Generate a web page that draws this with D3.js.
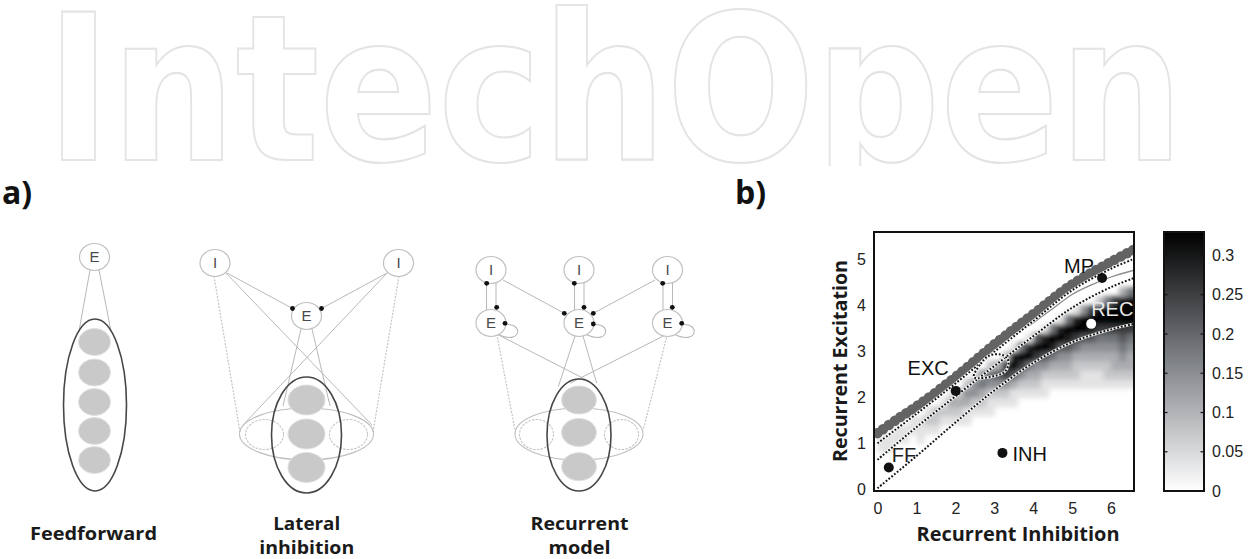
<!DOCTYPE html>
<html><head><meta charset="utf-8">
<script src="https://cdn.jsdelivr.net/npm/d3@7"></script>
<style>body{margin:0;background:#fff;} svg{display:block;}</style>
</head><body>
<svg id="c" width="1255" height="559"></svg>
<script>
// ---------------- DATA ----------------
const xTicks = [0, 1, 2, 3, 4, 5, 6];
const yTicks = [0, 1, 2, 3, 4, 5];
const cbTicks = [0, 0.05, 0.1, 0.15, 0.2, 0.25, 0.3];
const cbTickLabels = ["0", "0.05", "0.1", "0.15", "0.2", "0.25", "0.3"];
const heatMax = 0.33;
const gridStep = 0.2;           // grid spacing in data units (inhibition & excitation)
const heatLevels = 9;           // digit 9 == heatMax
// one string per inhibition column (x = 0..6.6 step 0.2), chars from excitation 0 upward (step 0.2)
const heatCols = [
  "0000110000000000000000000000",
  "0000110000000000000000000000",
  "0000011000000000000000000000",
  "0000011000000000000000000000",
  "0000001100000000000000000000",
  "0000011100000000000000000000",
  "0000001210000000000000000000",
  "0000001220000000000000000000",
  "0000000121000000000000000000",
  "0000000123100000000000000000",
  "0000000123200000000000000000",
  "0000000113420000000000000000",
  "0000000012441000000000000000",
  "0000000012354000000000000000",
  "0000000011245200000000000000",
  "0000000001246300000000000000",
  "0000000001247720000000000000",
  "0000000001136981000000000000",
  "0000000000124795000000000000",
  "0000000000123598100000000000",
  "0000000000123479600000000000",
  "0000000000112469810000000000",
  "0000000000012358950000000000",
  "0000000000012346981000000000",
  "0000000000012346895000000000",
  "0000000000012235798100000000",
  "0000000000011234699400000000",
  "0000000000011234689700000000",
  "0000000000011234579920000000",
  "0000000000012234579950000000",
  "0000000000012334579970000000",
  "0000000000012345679993000000",
  "0000000000012334579995000000"
];
const upperBoundary = [[0,1.22],[0.5,1.52],[1.1,1.86],[2,2.44],[3,3.15],[4,3.81],[5,4.46],[6,4.95],[6.6,5.22]];
const upperDotted   = [[0,1.0],[1,1.64],[2,2.3],[3,2.99],[4,3.66],[5,4.33],[6,4.8],[6.6,5.02]];
const thinLine      = [[3.9,3.56],[4.5,3.93],[5,4.24],[5.5,4.45],[6,4.62],[6.6,4.77]];
const middleDotted  = [[0,0.64],[1,1.35],[2,2.02],[3,2.68],[4,3.33],[5,3.95],[6,4.4],[6.6,4.6]];
const lowerDotted   = [[0,0.02],[1,0.72],[2,1.45],[3,2.15],[4,2.75],[5,3.2],[6,3.48],[6.6,3.6]];
const loopContour   = [[2.48,2.44],[2.65,2.73],[2.87,2.91],[3.17,2.93],[3.34,2.84],[3.36,2.70],[3.26,2.55],[3.08,2.48]];
const pointNames = ["FF", "EXC", "INH", "MP", "REC"];
const pointInh   = [0.29, 2.01, 3.21, 5.77, 5.49];
const pointExc   = [0.47, 2.14, 0.79, 4.60, 3.60];

// ---------------- DRAW ----------------
const svg = d3.select("#c");
const defs = svg.append("defs");

// watermark (clipped to the band above the panels)
defs.append("clipPath").attr("id", "wmclip").append("rect")
  .attr("x", 0).attr("y", 0).attr("width", 1255).attr("height", 166);
svg.append("g").attr("clip-path", "url(#wmclip)")
  .append("text").attr("transform", "translate(46,160) scale(1,1.16)")
  .attr("font-family", "DejaVu Sans").attr("font-weight", 700).attr("font-size", 175)
  .attr("fill", "#fff").attr("stroke", "#e4e4e4").attr("stroke-width", 1.8)
  .text("IntechOpen");

// panel labels
[["a)", 2], ["b)", 735]].forEach(([t, px]) => {
  svg.append("text").attr("x", px).attr("y", 204)
    .attr("font-family", "Open Sans").attr("font-weight", 700).attr("font-size", 32)
    .attr("fill", "#111").text(t);
});

// ---------- panel a diagrams ----------
const A = svg.append("g");
const lineCol = "#b8b8b8", nodeCol = "#c0c0c0", darkCol = "#474747", fillCol = "#c9c9c9";
function seg(x1, y1, x2, y2, dotted) {
  A.append("line").attr("x1", x1).attr("y1", y1).attr("x2", x2).attr("y2", y2)
    .attr("stroke", dotted ? "#c4c4c4" : lineCol).attr("stroke-width", dotted ? 1.2 : 1)
    .attr("stroke-dasharray", dotted ? "2,1.4" : null);
}
function ell(cx, cy, rx, ry, stroke, sw, fill, dash) {
  A.append("ellipse").attr("cx", cx).attr("cy", cy).attr("rx", rx).attr("ry", ry)
    .attr("stroke", stroke).attr("stroke-width", sw).attr("fill", fill || "none")
    .attr("stroke-dasharray", dash || null);
}
function node(cx, cy, label) {
  ell(cx, cy, 15, 13.5, nodeCol, 1.2, "#fff");
  A.append("text").attr("x", cx).attr("y", cy + 5).attr("text-anchor", "middle")
    .attr("font-family", "Liberation Sans").attr("font-size", 15).attr("fill", "#4a4a4a").text(label);
}
function dot(cx, cy) { A.append("circle").attr("cx", cx).attr("cy", cy).attr("r", 2.4).attr("fill", "#111"); }
function loop(cx, cy) {
  A.append("path").attr("d", `M${cx+13},${cy+2} C${cx+32},${cy-2} ${cx+32},${cy+22} ${cx+8},${cy+12}`)
    .attr("fill", "none").attr("stroke", lineCol).attr("stroke-width", 1.1);
}
function cluster(cx, cy, big) {
  ell(cx, cy, big.wrx, 26, "#bfbfbf", 1.1);
  ell(cx - big.off, cy + 0.5, big.srx, 15, "#c4c4c4", 1.1, "none", "2.5,1.2");
  ell(cx + big.off, cy + 0.5, big.srx, 15, "#c4c4c4", 1.1, "none", "2.5,1.2");
}
function label2(cx, lines) {
  lines.forEach(([t, yy, w]) => {
    A.append("text").attr("x", cx).attr("y", yy).attr("text-anchor", "middle")
      .attr("font-family", "Open Sans").attr("font-weight", 700).attr("font-size", 18)
      .attr("fill", "#1a1a1a").attr("textLength", w).attr("lengthAdjust", "spacingAndGlyphs").text(t);
  });
}

// Feedforward
seg(90, 270, 79, 331); seg(99, 270, 111, 331);
[342, 372.5, 402, 431, 460].forEach(cy => ell(94.5, cy, 16, 13.5, "#e0e0e0", 1, fillCol));
ell(95, 405, 31.5, 86, darkCol, 1.6);
node(94.5, 257, "E");
label2(93.5, [["Feedforward", 540, 127]]);

// Lateral inhibition
seg(227, 273, 292.5, 308.5); seg(387, 273, 321.5, 308.5);
seg(225, 272, 372, 425); seg(388, 272, 243, 425);
seg(214, 276, 240, 432, true); seg(399, 276, 373, 432, true);
seg(301, 329, 283, 406); seg(312, 329, 330, 406);
cluster(306.5, 434, {wrx: 67, srx: 19, off: 42});
[400, 434, 467.5].forEach(cy => ell(306.5, cy, 18.5, 15, "#e0e0e0", 1, fillCol));
ell(306.5, 435, 35, 58, darkCol, 1.6);
node(215, 263, "I"); node(398.5, 263, "I"); node(306.5, 316, "E");
dot(292.5, 308.5); dot(321.5, 308.5);
label2(306.7, [["Lateral", 529.5, 67], ["inhibition", 553.5, 95]]);

// Recurrent model
const rx3 = [491, 579, 667.5];
rx3.forEach(cx => { seg(cx - 4.5, 283, cx - 4.5, 310); seg(cx + 5, 283, cx + 5, 310); });
seg(503, 280, 564.3, 313.3); seg(655, 280, 593.3, 313.3);
seg(496.7, 334, 515, 430, true); seg(667.3, 334, 643.3, 430, true);
seg(496.7, 334, 586.7, 380); seg(667.3, 334, 570, 383.3);
seg(575, 336, 558.3, 386.7); seg(583, 336, 596.7, 383.3);
cluster(579, 434, {wrx: 64, srx: 17, off: 42.5});
[400, 432.5, 466.7].forEach(cy => ell(579, cy, 17.5, 14, "#e0e0e0", 1, fillCol));
ell(579, 435, 32, 56, darkCol, 1.6);
rx3.forEach(cx => { loop(cx, 323); node(cx, 270, "I"); node(cx, 323, "E"); });
[[486.7,283.3],[496.7,307.3],[505,323.3],[574.3,283.3],[584,307.3],[564.3,313.3],[593.3,313.3],[593.3,324],[662.7,283.3],[672.3,307.3],[681.7,323.3]].forEach(p => dot(p[0], p[1]));
label2(579.5, [["Recurrent", 529.5, 98], ["model", 553.5, 62]]);

// ---------- panel b chart ----------
const x = d3.scaleLinear().domain([-0.09, 6.59]).range([874, 1134]);
const y = d3.scaleLinear().domain([-0.04, 5.6]).range([491, 232]);
const color = d3.scaleLinear().domain([0, heatMax / 2, heatMax]).range(["#ffffff", "#7f8287", "#000000"]);

defs.append("clipPath").attr("id", "plotclip").append("rect")
  .attr("x", 874).attr("y", 232).attr("width", 260).attr("height", 259);
defs.append("filter").attr("id", "soft").attr("x", "-5%").attr("y", "-5%").attr("width", "110%").attr("height", "110%")
  .append("feGaussianBlur").attr("stdDeviation", 2.7);

const P = svg.append("g").attr("clip-path", "url(#plotclip)");
const H = P.append("g").attr("filter", "url(#soft)");
heatCols.forEach((col, i) => {
  [...col].forEach((ch, j) => {
    const v = (+ch) / heatLevels * heatMax;
    if (v <= 0) return;
    const x0 = x(i * gridStep);
    const x1 = i === heatCols.length - 1 ? x.range()[1] + 12 : x((i + 1) * gridStep);
    const y0 = y((j + 1) * gridStep), y1 = y(j * gridStep);
    H.append("rect").attr("x", x0).attr("y", y0)
      .attr("width", x1 - x0 + 0.6).attr("height", y1 - y0 + 0.6)
      .attr("fill", color(v));
  });
});

const lineGen = d3.line().x(d => x(d[0])).y(d => y(d[1])).curve(d3.curveCatmullRom);

// gray beaded boundary
P.append("path").attr("d", lineGen(upperBoundary)).attr("fill", "none")
  .attr("stroke", "#636363").attr("stroke-width", 7);
P.append("path").attr("d", lineGen(upperBoundary)).attr("fill", "none")
  .attr("stroke", "#636363").attr("stroke-width", 10.5)
  .attr("stroke-linecap", "round").attr("stroke-dasharray", "0,7");

// thin gray line
P.append("path").attr("d", lineGen(thinLine)).attr("fill", "none")
  .attr("stroke", "#fff").attr("stroke-width", 3);
P.append("path").attr("d", lineGen(thinLine)).attr("fill", "none")
  .attr("stroke", "#8a8a8a").attr("stroke-width", 1.3);

function dotted(data, closed) {
  const gen = closed ? d3.line().x(d => x(d[0])).y(d => y(d[1])).curve(d3.curveCatmullRomClosed) : lineGen;
  P.append("path").attr("d", gen(data)).attr("fill", "none")
    .attr("stroke", "#fff").attr("stroke-width", 2.8).attr("opacity", 0.9);
  P.append("path").attr("d", gen(data)).attr("fill", "none")
    .attr("stroke", "#111").attr("stroke-width", 2).attr("stroke-dasharray", "1.8,1.8");
}
dotted(upperDotted); dotted(middleDotted); dotted(lowerDotted); dotted(loopContour, true);

// points
const labelStyle = {
  FF:  {dx: 3,  dy: -5.5, anchor: "start", fill: "#222"},
  EXC: {dx: -7, dy: -16,  anchor: "end",   fill: "#111"},
  INH: {dx: 10, dy: 8.5,  anchor: "start", fill: "#111"},
  MP:  {dx: -8, dy: -5,   anchor: "end",   fill: "#111"},
  REC: {dx: 0,  dy: -8,   anchor: "start", fill: "#e6e6e6"}
};
pointNames.forEach((n, k) => {
  const cx = x(pointInh[k]), cy = y(pointExc[k]);
  svg.append("circle").attr("cx", cx).attr("cy", cy).attr("r", 5)
    .attr("fill", n === "REC" ? "#fff" : "#111");
  const s = labelStyle[n];
  svg.append("text").attr("x", cx + s.dx).attr("y", cy + s.dy).attr("text-anchor", s.anchor)
    .attr("font-family", "Liberation Sans").attr("font-size", 20).attr("fill", s.fill).text(n);
});

// frame
svg.append("rect").attr("x", 874).attr("y", 232).attr("width", 260).attr("height", 259)
  .attr("fill", "none").attr("stroke", "#111").attr("stroke-width", 2);

// axes
const tickFont = g => g.selectAll("text").attr("font-family", "Liberation Sans").attr("font-size", 16).attr("fill", "#222");
svg.append("g").attr("transform", "translate(0,491)")
  .call(d3.axisBottom(x).tickValues(xTicks).tickFormat(d3.format("d")).tickSize(0).tickPadding(12))
  .call(g => g.select(".domain").remove()).call(tickFont);
svg.append("g").attr("transform", "translate(874,0)")
  .call(d3.axisLeft(y).tickValues(yTicks).tickFormat(d3.format("d")).tickSize(0).tickPadding(8))
  .call(g => g.select(".domain").remove()).call(tickFont);

// axis titles
svg.append("text").attr("x", 1018).attr("y", 541).attr("text-anchor", "middle")
  .attr("font-family", "Open Sans").attr("font-weight", 700).attr("font-size", 19).attr("fill", "#1a1a1a")
  .attr("textLength", 203).attr("lengthAdjust", "spacingAndGlyphs").text("Recurrent Inhibition");
svg.append("text").attr("transform", "translate(847,361) rotate(-90)").attr("text-anchor", "middle")
  .attr("font-family", "Open Sans").attr("font-weight", 700).attr("font-size", 19).attr("fill", "#1a1a1a")
  .attr("textLength", 202).attr("lengthAdjust", "spacingAndGlyphs").text("Recurrent Excitation");

// colorbar
const cy = d3.scaleLinear().domain([0, heatMax]).range([491, 232]);
const grad = defs.append("linearGradient").attr("id", "cbgrad")
  .attr("x1", 0).attr("y1", 1).attr("x2", 0).attr("y2", 0);
d3.range(0, 1.0001, 0.1).forEach(t => {
  grad.append("stop").attr("offset", t).attr("stop-color", color(t * heatMax));
});
svg.append("rect").attr("x", 1164).attr("y", 232).attr("width", 40).attr("height", 259)
  .attr("fill", "url(#cbgrad)").attr("stroke", "#111").attr("stroke-width", 2);
svg.append("g").attr("transform", "translate(1204,0)")
  .call(d3.axisRight(cy).tickValues(cbTicks).tickFormat((d, i) => cbTickLabels[i]).tickSize(0).tickPadding(8))
  .call(g => g.select(".domain").remove()).call(tickFont);
cbTicks.slice(1).forEach(t => {
  svg.append("line").attr("x1", 1164).attr("x2", 1167.5).attr("y1", cy(t)).attr("y2", cy(t)).attr("stroke", "#111").attr("stroke-width", 1.2);
  svg.append("line").attr("x1", 1200.5).attr("x2", 1204).attr("y1", cy(t)).attr("y2", cy(t)).attr("stroke", "#111").attr("stroke-width", 1.2);
});
</script>
</body></html>
